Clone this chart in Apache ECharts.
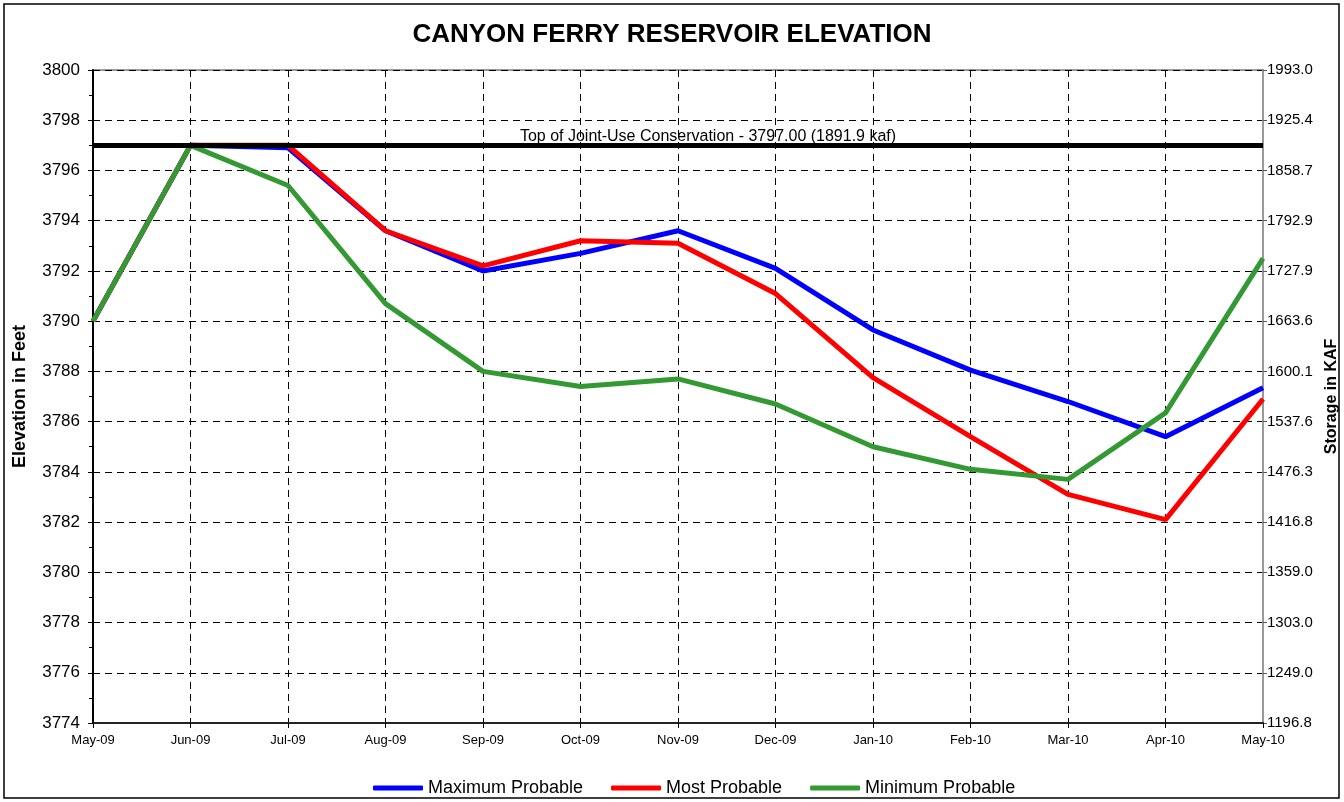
<!DOCTYPE html>
<html>
<head>
<meta charset="utf-8">
<script src="https://cdn.jsdelivr.net/npm/echarts@6/dist/echarts.min.js"></script>
<style>
html,body{margin:0;padding:0;background:#fff;}
#chart{width:1344px;height:802px;}
</style>
</head>
<body>
<div id="chart"></div>
<script>
var categories = ['May-09','Jun-09','Jul-09','Aug-09','Sep-09','Oct-09','Nov-09','Dec-09','Jan-10','Feb-10','Mar-10','Apr-10','May-10'];
var maximumProbable = [3790.0, 3797.0, 3796.9, 3793.6, 3792.0, 3792.7, 3793.6, 3792.1, 3789.65, 3788.05, 3786.8, 3785.4, 3787.35];
var mostProbable    = [3790.0, 3797.0, 3797.0, 3793.6, 3792.2, 3793.2, 3793.1, 3791.1, 3787.75, 3785.4, 3783.1, 3782.1, 3786.9];
var minimumProbable = [3790.0, 3797.0, 3795.4, 3790.7, 3788.0, 3787.4, 3787.7, 3786.7, 3785.0, 3784.1, 3783.7, 3786.35, 3792.5];
var topOfConservation = 3797.0;
var conservationLabel = 'Top of Joint-Use Conservation - 3797.00 (1891.9 kaf)';
// storage labels (KAF), bottom to top, matching elevations 3774..3800 step 2
var storageLabels = ['1196.8','1249.0','1303.0','1359.0','1416.8','1476.3','1537.6','1600.1','1663.6','1727.9','1792.9','1858.7','1925.4','1993.0'];
var elevMin = 3774, elevMax = 3800, elevStep = 2;

var FONT = 'Liberation Sans, Arial, sans-serif';
var chart = echarts.init(document.getElementById('chart'));
chart.setOption({
  animation: false,
  backgroundColor: '#fff',
  title: {
    text: 'CANYON FERRY RESERVOIR ELEVATION',
    left: 'center', top: 17,
    textStyle: {fontFamily: FONT, fontSize: 26, fontWeight: 'bold', color: '#000'}
  },
  graphic: [{
    type: 'rect', silent: true,
    shape: {x: 4, y: 4, width: 1335, height: 794},
    style: {fill: 'none', stroke: '#000', lineWidth: 1.5}
  }],
  legend: {
    top: 774, left: 368,
    icon: 'roundRect', itemWidth: 50, itemHeight: 5, itemGap: 28,
    textStyle: {fontFamily: FONT, fontSize: 18, color: '#000'},
    data: ['Maximum Probable','Most Probable','Minimum Probable']
  },
  grid: {left: 93, right: 81, top: 70, bottom: 79, show: true, borderColor: '#999', borderWidth: 2, backgroundColor: '#fff', outerBoundsMode: 'none', containLabel: false},
  xAxis: {
    type: 'category', data: categories, boundaryGap: false,
    axisLine: {lineStyle: {color: '#222', width: 2}},
    axisTick: {show: true, alignWithLabel: true, length: 5, lineStyle: {color: '#000'}},
    axisLabel: {fontFamily: FONT, fontSize: 13, color: '#000', margin: 11, interval: 0},
    splitLine: {show: true, lineStyle: {color: '#000', type: [7, 5], width: 1}}
  },
  yAxis: [{
    type: 'value', min: elevMin, max: elevMax, interval: elevStep,
    name: 'Elevation in Feet', nameLocation: 'middle', nameGap: 64,
    nameTextStyle: {fontFamily: FONT, fontSize: 18, fontWeight: 'bold', color: '#000'},
    axisLine: {show: true, lineStyle: {color: '#000', width: 2}},
    axisTick: {show: true, length: 5, lineStyle: {color: '#000'}},
    minorTick: {show: true, splitNumber: 2, length: 4, lineStyle: {color: '#000'}},
    axisLabel: {fontFamily: FONT, fontSize: 17, color: '#000', margin: 13,
      formatter: function (v) { return String(v); }},
    splitLine: {show: true, lineStyle: {color: '#000', type: [7, 5], width: 1}}
  }, {
    type: 'value', min: elevMin, max: elevMax, interval: elevStep, position: 'right',
    name: 'Storage in KAF', nameLocation: 'middle', nameGap: 60,
    nameTextStyle: {fontFamily: FONT, fontSize: 16, fontWeight: 'bold', color: '#000'},
    axisLine: {show: true, lineStyle: {color: '#999', width: 2}},
    axisTick: {show: true, length: 4, lineStyle: {color: '#555'}},
    axisLabel: {
      fontFamily: FONT, fontSize: 15, color: '#000', margin: 4,
      formatter: function (v) { return storageLabels[Math.round((v - elevMin) / elevStep)]; }
    },
    splitLine: {show: false}
  }],
  series: [{
    name: 'Maximum Probable', type: 'line', data: maximumProbable,
    symbol: 'none', color: '#0000FF', lineStyle: {width: 5, color: '#0000FF'}
  }, {
    name: 'Most Probable', type: 'line', data: mostProbable,
    symbol: 'none', color: '#FF0000', lineStyle: {width: 5, color: '#FF0000'}
  }, {
    name: 'Minimum Probable', type: 'line', data: minimumProbable,
    symbol: 'none', color: '#339933', lineStyle: {width: 5, color: '#339933'},
    markLine: {
      silent: true, symbol: ['none', 'none'], animation: false,
      lineStyle: {color: '#000', width: 5, type: 'solid'},
      label: {
        show: true, position: 'insideMiddleTop', formatter: conservationLabel,
        fontFamily: FONT, fontSize: 16, color: '#000', padding: [0, 0, 0, 60], distance: 1
      },
      data: [{yAxis: topOfConservation}]
    }
  }]
});
</script>
</body>
</html>
